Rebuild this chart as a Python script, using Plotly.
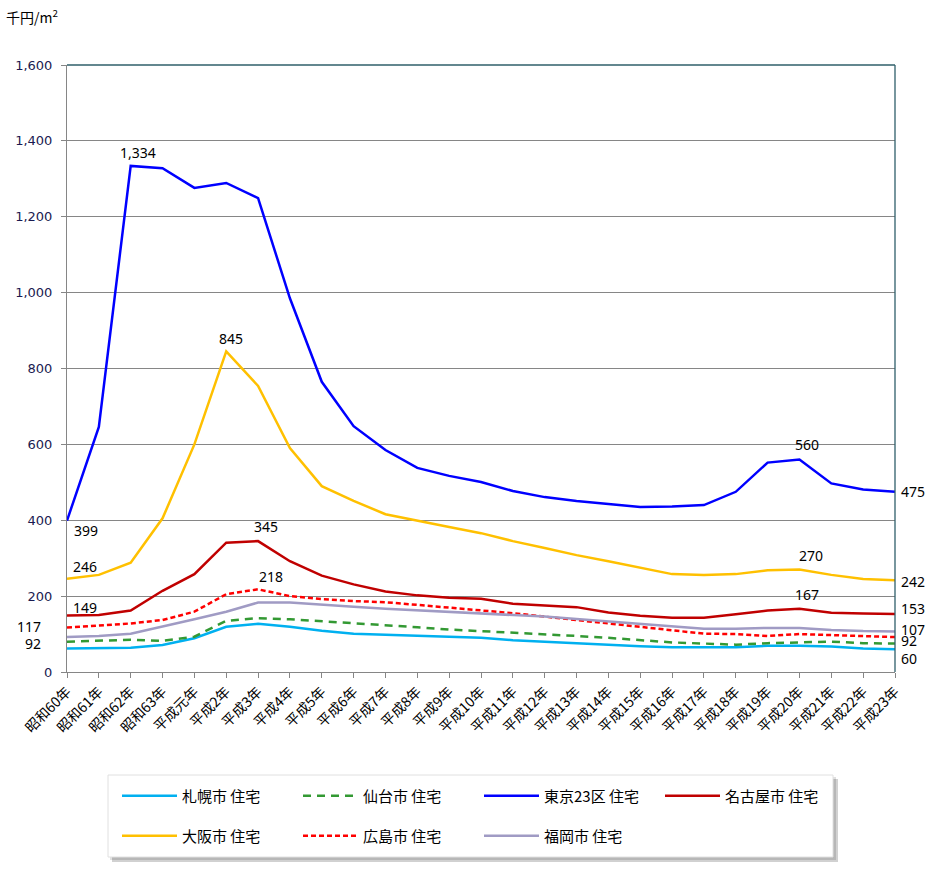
import plotly.graph_objects as go

categories = ["昭和60年", "昭和61年", "昭和62年", "昭和63年", "平成元年"] + [f"平成{i}年" for i in range(2, 24)]

sapporo = [62, 63, 64, 71, 89, 119, 127, 119, 109, 101, 98, 96, 93, 90, 84, 80, 76, 71, 68, 65, 65, 65, 69, 69, 67, 62, 60]
sendai = [80, 83, 85, 82, 93, 135, 142, 139, 134, 128, 123, 118, 112, 108, 104, 100, 95, 90, 84, 78, 75, 72, 76, 78, 80, 76, 75]
tokyo = [399, 646, 1334, 1328, 1276, 1289, 1249, 985, 765, 648, 585, 538, 517, 501, 477, 461, 451, 443, 435, 436, 440, 475, 552, 560, 497, 481, 475]
nagoya = [149, 150, 162, 214, 258, 341, 345, 292, 254, 231, 212, 202, 196, 193, 180, 175, 171, 157, 148, 143, 143, 152, 162, 167, 156, 154, 153]
osaka = [246, 256, 288, 405, 600, 845, 754, 590, 490, 451, 416, 398, 382, 366, 345, 327, 308, 292, 274, 258, 256, 258, 268, 270, 256, 245, 242]
hiroshima = [117, 122, 128, 137, 159, 205, 218, 200, 192, 187, 184, 177, 170, 162, 155, 146, 137, 128, 119, 109, 101, 100, 95, 100, 97, 95, 92]
fukuoka = [92, 95, 101, 119, 139, 159, 183, 183, 177, 172, 167, 163, 159, 156, 152, 146, 140, 133, 126, 119, 114, 114, 116, 116, 111, 108, 107]

y_ticks = [0, 200, 400, 600, 800, 1000, 1200, 1400, 1600]

series = [
    ("札幌市 住宅", sapporo, "#00B0F0", "solid", "legend"),
    ("仙台市 住宅", sendai, "#339933", "dash", "legend"),
    ("東京23区 住宅", tokyo, "#0000FF", "solid", "legend"),
    ("名古屋市 住宅", nagoya, "#C00000", "solid", "legend"),
    ("大阪市 住宅", osaka, "#FFC000", "solid", "legend2"),
    ("広島市 住宅", hiroshima, "#FF0000", "dot", "legend2"),
    ("福岡市 住宅", fukuoka, "#A09BC4", "solid", "legend2"),
]

fig = go.Figure()
for name, vals, color, dash, lg in series:
    d = dash
    if dash == "dash":
        d = "8px,6px"
    elif dash == "dot":
        d = "5px,3px"
    fig.add_trace(go.Scatter(
        x=categories, y=vals, name=name, mode="lines",
        line=dict(color=color, width=2.5, dash=d),
        legend=lg, hoverinfo="x+y+name",
    ))

lab_font = dict(family="Noto Sans", size=14, color="#000000")
last = len(categories) - 1

def ann(i, vals, xs=0, ys=0, xa="center"):
    fig.add_annotation(x=categories[i], y=vals[i], text=f"{vals[i]:,}",
                       showarrow=False, xshift=xs, yshift=ys, xanchor=xa,
                       font=lab_font)

# peak labels
ann(2, tokyo, 7, 13)
ann(5, osaka, 5, 13)
ann(6, nagoya, 8, 15)
ann(6, hiroshima, 13, 13)
ann(23, tokyo, 8, 15)
ann(23, osaka, 12, 14)
ann(23, nagoya, 8, 14)
# left labels
ann(0, tokyo, 5, -10, "left")
ann(0, osaka, 4, 12, "left")
ann(0, nagoya, 4, 8, "left")
ann(0, hiroshima, -24, 1, "right")
ann(0, fukuoka, -24, -6, "right")
# right labels
ann(last, tokyo, 4, 0, "left")
ann(last, osaka, 4, -1, "left")
ann(last, nagoya, 4, 5, "left")
ann(last, fukuoka, 4, 2, "left")
ann(last, hiroshima, 4, -3, "left")
ann(last, sapporo, 4, -9, "left")

W, H = 931, 870
L, R, T, B = 67, 36, 65, 198
pw, ph = W - L - R, H - T - B

def px(x):
    return (x - L) / pw

def py(y):
    return (H - B - y) / ph

# unit label
fig.add_annotation(xref="paper", yref="paper", x=px(4), y=py(16), xanchor="left", yanchor="middle",
                   text="千円/m<sup>2</sup>", showarrow=False,
                   font=dict(family="Noto Sans CJK JP", size=14, color="#000000"))

# legend box with shadow
fig.add_shape(type="rect", xref="paper", yref="paper", x0=px(112), x1=px(838), y0=py(779), y1=py(862),
              fillcolor="rgba(0,0,0,0.18)", line=dict(width=0), layer="above")
fig.add_shape(type="rect", xref="paper", yref="paper", x0=px(110), x1=px(836), y0=py(777), y1=py(860),
              fillcolor="rgba(0,0,0,0.12)", line=dict(width=0), layer="above")
fig.add_shape(type="rect", xref="paper", yref="paper", x0=px(108), x1=px(833), y0=py(775), y1=py(857),
              fillcolor="#FFFFFF", line=dict(color="#E0E0E0", width=1), layer="above")
# right axis and top border
fig.add_shape(type="line", xref="paper", yref="paper", x0=1, x1=1, y0=0, y1=1,
              line=dict(color="#2F5F6A", width=1.3), layer="above")
fig.add_shape(type="line", xref="paper", yref="paper", x0=0, x1=1, y0=1, y1=1,
              line=dict(color="#2F5F6A", width=1.3), layer="above")

leg_font = dict(family="Noto Sans CJK JP", size=15, color="#000000")
legcommon = dict(orientation="h", xanchor="left", yanchor="middle", bgcolor="rgba(0,0,0,0)",
                 borderwidth=0, font=leg_font, entrywidth=111, entrywidthmode="pixels",
                 itemwidth=55, traceorder="normal")

fig.update_layout(
    width=W, height=H,
    margin=dict(l=L, r=R, t=T, b=B, autoexpand=False),
    paper_bgcolor="#FFFFFF", plot_bgcolor="#FFFFFF",
    showlegend=True,
    legend=dict(x=px(117), y=py(796), **legcommon),
    legend2=dict(x=px(117), y=py(836), **legcommon),
    xaxis=dict(
        type="category", range=[0, last], showgrid=False,
        showline=True, linecolor="#868686", linewidth=1,
        ticks="outside", ticklen=5, tickcolor="#868686",
        tickangle=-45, tickfont=dict(family="Noto Sans CJK JP", size=14, color="#000000"),
        fixedrange=True,
    ),
    yaxis=dict(
        range=[0, 1600], tickvals=y_ticks, tickformat=",d",
        showgrid=True, gridcolor="#868686", gridwidth=1,
        showline=True, linecolor="#868686", linewidth=1,
        ticks="outside", ticklen=5, tickcolor="#868686", ticklabelstandoff=6,
        tickfont=dict(family="DejaVu Sans", size=13, color="#1A1A50"),
        zeroline=False, fixedrange=True,
    ),
)

fig.write_html(
    "out.html",
    config={"displayModeBar": False},
    post_script="document.body.style.margin='0';document.body.style.overflow='hidden';",
)
